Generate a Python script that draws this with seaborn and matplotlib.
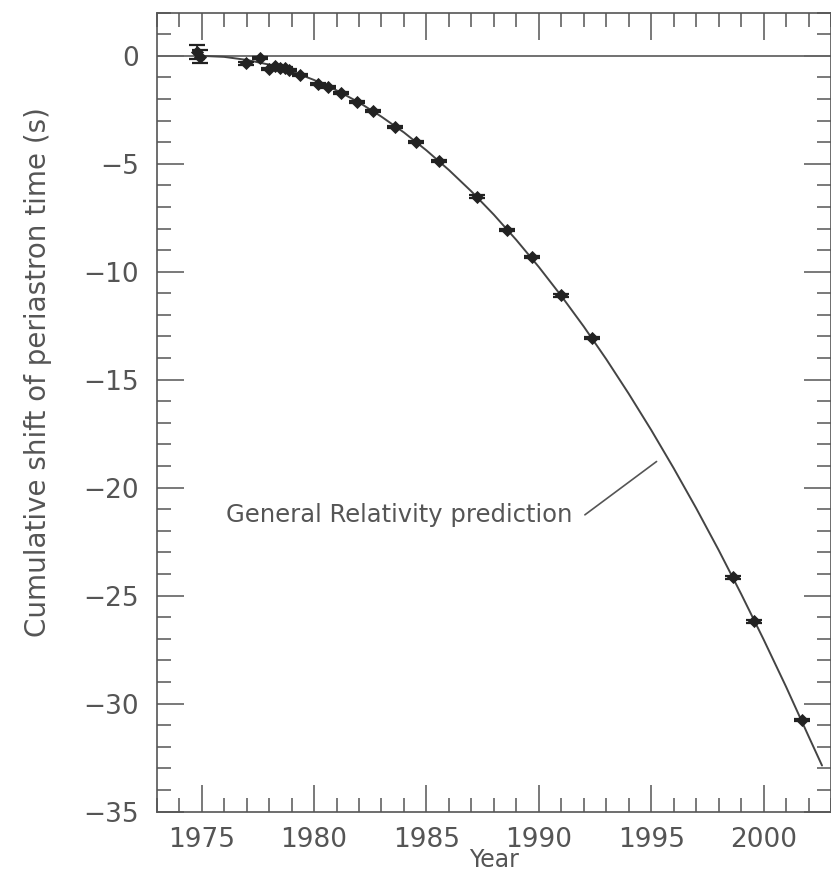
import matplotlib
matplotlib.use("Agg")
import matplotlib.pyplot as plt
import seaborn as sns
import numpy as np
import pandas as pd
from matplotlib.ticker import MultipleLocator

# ---- data ----
obs_year = [1974.78, 1974.93, 1976.97, 1977.60, 1978.00, 1978.26, 1978.48,
            1978.70, 1978.90, 1979.37, 1980.16, 1980.63, 1981.18, 1981.92,
            1982.61, 1983.60, 1984.53, 1985.57, 1987.23, 1988.57, 1989.68,
            1990.99, 1992.35, 1998.65, 1999.58, 2001.69]
obs_shift = [0.19, -0.04, -0.35, -0.12, -0.61, -0.46, -0.58, -0.58, -0.66,
             -0.89, -1.31, -1.43, -1.71, -2.15, -2.56, -3.28, -4.00, -4.87,
             -6.52, -8.06, -9.33, -11.10, -13.08, -24.16, -26.20, -30.75]
obs_err = [0.32, 0.30, 0.06, 0.05, 0.05, 0.05, 0.05, 0.05, 0.05, 0.05,
           0.05, 0.05, 0.05, 0.05, 0.05, 0.05, 0.05, 0.05, 0.05, 0.05,
           0.05, 0.05, 0.05, 0.05, 0.05, 0.05]

gr_year = [1974.9, 1976, 1977, 1978, 1979, 1980, 1981, 1982, 1983, 1984,
           1985, 1986, 1987, 1988, 1989, 1990, 1991, 1992, 1993, 1994, 1995,
           1996, 1997, 1998, 1999, 2000, 2001, 2002, 2002.6]
gr_shift = [0.0, -0.05, -0.19, -0.41, -0.72, -1.12, -1.60, -2.16, -2.82,
            -3.55, -4.38, -5.29, -6.28, -7.36, -8.53, -9.78, -11.12, -12.54,
            -14.05, -15.65, -17.33, -19.10, -20.95, -22.89, -24.92, -27.03,
            -29.22, -31.51, -32.87]

x_ticks = [1975, 1980, 1985, 1990, 1995, 2000]
y_ticks = [0, -5, -10, -15, -20, -25, -30, -35]

label_text = "General Relativity prediction"

# ---- style ----
sns.set_theme(style="ticks")
plt.rcParams['font.family'] = ['DejaVu Sans']
gray = "#555555"

fig = plt.figure(figsize=(8.31, 8.73), dpi=100)
ax = fig.add_axes([156.7 / 831, (873 - 811.5) / 873, (831 - 156.7) / 831,
                   (811.5 - 12.6) / 873])

obs = pd.DataFrame({"year": obs_year, "shift": obs_shift, "err": obs_err})
gr = pd.DataFrame({"year": gr_year, "shift": gr_shift})

ax.axhline(0, color="#666666", lw=1.3, zorder=1)
sns.lineplot(data=gr, x="year", y="shift", ax=ax, color="#444444", lw=1.4,
             estimator=None, sort=False, zorder=2)
ax.errorbar(obs["year"], obs["shift"], yerr=obs["err"], fmt="none",
            ecolor="#222222", elinewidth=1.2, capsize=5.5, capthick=1.6,
            zorder=3)
sns.scatterplot(data=obs, x="year", y="shift", ax=ax, marker="D", s=45,
                color="#222222", edgecolor="#222222", linewidth=0, zorder=4)

ax.set_xlim(1973, 2003)
ax.set_ylim(-35, 2)
ax.set_xticks(x_ticks)
ax.set_yticks(y_ticks)
ax.xaxis.set_minor_locator(MultipleLocator(1))
ax.yaxis.set_minor_locator(MultipleLocator(1))
ax.set_yticklabels([f"\u2212{abs(v)}" if v < 0 else str(v) for v in y_ticks])

ax.tick_params(which="both", direction="in", top=True, right=True,
               color=gray, width=1.1, labelcolor=gray, labelsize=19)
ax.tick_params(which="major", length=19.5)
ax.tick_params(which="minor", length=10)
ax.tick_params(axis="x", which="major", pad=11)
ax.tick_params(axis="y", which="major", pad=13)
for sp in ax.spines.values():
    sp.set_color(gray)
    sp.set_linewidth(1.2)

ax.set_xlabel("Year", fontsize=17, color=gray)
ax.set_ylabel("Cumulative shift of periastron time (s)", fontsize=20,
              color=gray)
ax.yaxis.set_label_coords(-0.155, 0.55)
ax.xaxis.set_label_coords(0.5, -0.046)

ax.text(1976.1, -21.26, label_text, fontsize=17.5, color=gray,
        ha="left", va="center")
ax.plot([1992.05, 1995.24], [-21.26, -18.79], color="#555555", lw=1.2)

fig.savefig("out.png", dpi=100, facecolor="white")
